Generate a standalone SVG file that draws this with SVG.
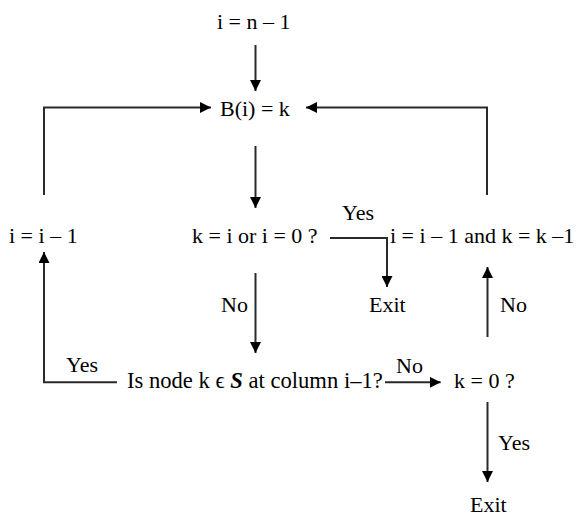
<svg xmlns="http://www.w3.org/2000/svg" width="579" height="516" viewBox="0 0 579 516">
<style>
text{font-family:'Liberation Serif','Times New Roman','DejaVu Serif',serif;font-size:22px;fill:#000}
.c{fill:none;stroke:#2a2a2a;stroke-width:2}
</style>
<defs>
<marker id="ah" markerUnits="userSpaceOnUse" markerWidth="11" markerHeight="11" viewBox="0 0 10 10" refX="10" refY="5" orient="auto">
<path d="M0,0 L10,5 L0,10 z" fill="#000"/>
</marker>
</defs>
<rect width="579" height="516" fill="#fff"/>
<g id="connectors">
<path class="c" d="M255.5,45 V91" marker-end="url(#ah)"/>
<path class="c" d="M44,195 V107.5 H211" marker-end="url(#ah)"/>
<path class="c" d="M487,195 V107.5 H306" marker-end="url(#ah)"/>
<path class="c" d="M255.5,146 V208" marker-end="url(#ah)"/>
<path class="c" d="M330,238 H387 V287" marker-end="url(#ah)"/>
<path class="c" d="M255.5,273 V353" marker-end="url(#ah)"/>
<path class="c" d="M487.5,337 V267" marker-end="url(#ah)"/>
<path class="c" d="M117,382.3 H44 V252" marker-end="url(#ah)"/>
<path class="c" d="M385,382.3 H440.7" marker-end="url(#ah)"/>
<path class="c" d="M487.5,402 V482" marker-end="url(#ah)"/>
<text x="342" y="220">Yes</text>
<text x="221" y="312">No</text>
<text x="500" y="312">No</text>
<text x="66" y="372">Yes</text>
<text x="396" y="373">No</text>
<text x="498" y="450">Yes</text>
</g>
<g id="n_start"><text x="217" y="29">i = n – 1</text></g>
<g id="n_b"><text x="220" y="116">B(i) = k</text></g>
<g id="n_dec"><text x="9" y="243">i = i – 1</text></g>
<g id="n_q1"><text x="192" y="243">k = i or i = 0 ?</text></g>
<g id="n_both"><text x="390" y="243">i = i – 1 and k = k –1</text></g>
<g id="n_exit1"><text x="369" y="312">Exit</text></g>
<g id="n_q2"><text x="127" y="388" style="font-size:22.6px">Is node k ϵ <tspan font-weight="bold" font-style="italic">S</tspan> at column i–1?</text></g>
<g id="n_q3"><text x="454" y="388">k = 0 ?</text></g>
<g id="n_exit2"><text x="470" y="512">Exit</text></g>
</svg>
